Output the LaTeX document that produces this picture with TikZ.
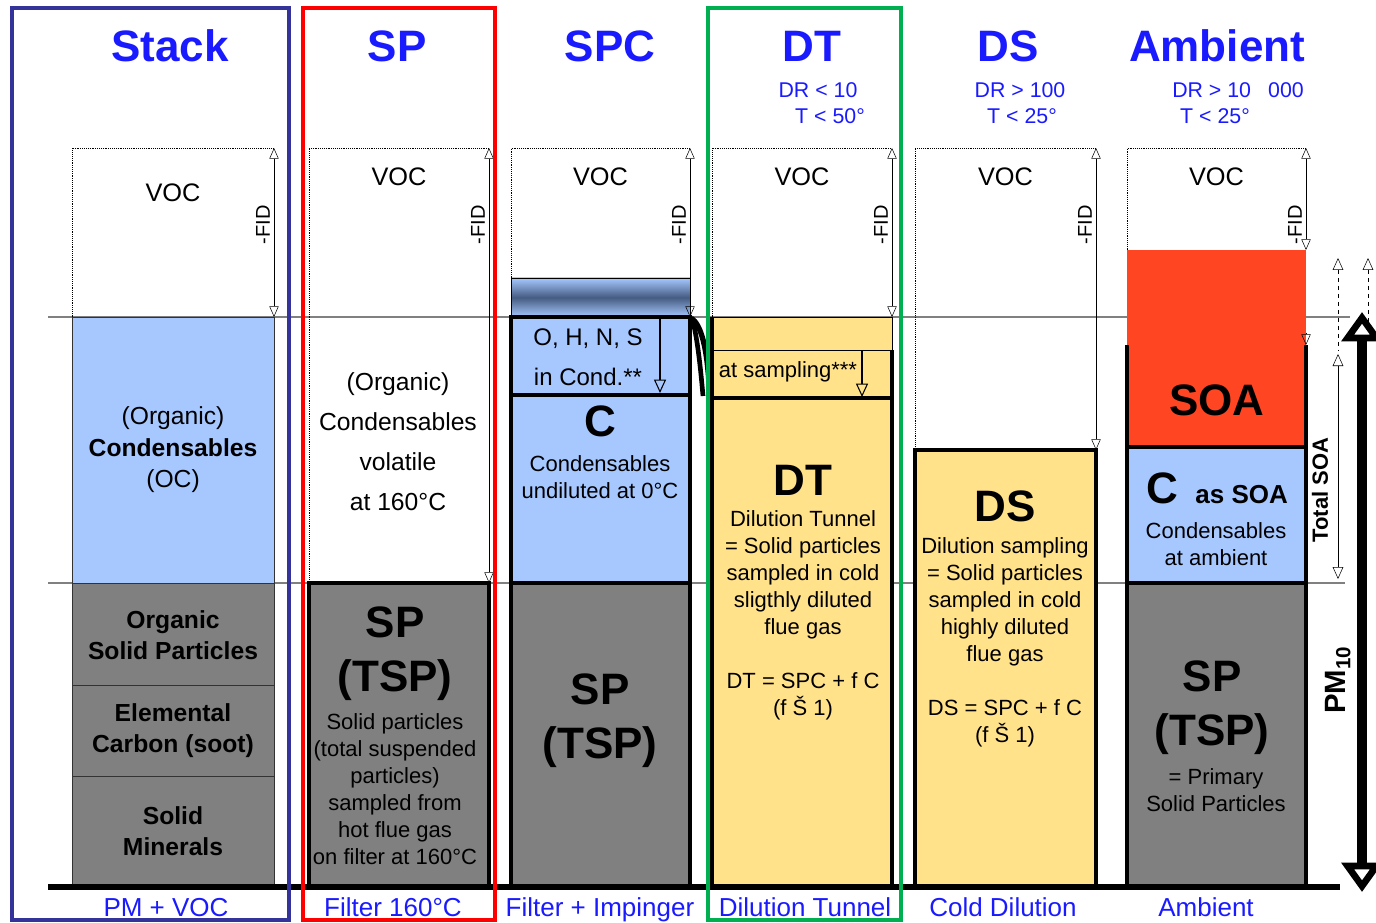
\documentclass[tikz,border=0pt]{standalone}
\usepackage{fontspec}
\setmainfont{Liberation Sans}
\usetikzlibrary{arrows.meta}
\definecolor{condblue}{RGB}{166,200,255}
\definecolor{bandblue}{RGB}{70,92,130}
\definecolor{solidgray}{RGB}{128,128,128}
\definecolor{dilyellow}{RGB}{255,226,138}
\definecolor{soared}{RGB}{255,69,34}
\definecolor{labelblue}{RGB}{26,26,255}
\definecolor{stackframe}{RGB}{51,51,153}
\definecolor{dtframe}{RGB}{0,176,80}
\newcommand{\fs}[2]{\fontsize{#1}{#2}\selectfont}
\tikzset{
  vocbox/.style={densely dotted, thin},
  fid/.style={{Triangle[open,length=8pt,width=7pt]}-{Triangle[open,length=8pt,width=7pt]}, thin},
  fidtext/.style={rotate=90, font=\fs{15}{18}},
  voctext/.style={font=\fs{19}{22}},
  heavy/.style={line width=3.5pt},
  title/.style={font=\fs{33}{36}\bfseries, text=labelblue},
  cond/.style={font=\fs{16}{18}, text=labelblue},
  base/.style={font=\fs{19.5}{22}, text=labelblue, anchor=base},
  body/.style={font=\fs{16.5}{20.25}, align=center},
  big/.style={font=\fs{33}{40.5}\bfseries, align=center},
  level/.style={draw=black!50, line width=2pt},
  drop/.style={thick, -{Triangle[open,length=10pt,width=9pt]}},
}
\begin{document}
\begin{tikzpicture}[x=0.75pt,y=-0.75pt]
    \useasboundingbox (0,0) rectangle (1376,923);
    % levels
    \draw[level] (48,317) -- (1350,317);
    \draw[level] (48,583) -- (1345,583);

    % Stack
    \fill[condblue] (72,317) rectangle (274,583);
    \fill[solidgray] (72,583) rectangle (274,887);
    \draw[black!80] (72,317) rectangle (274,583);
    \draw[black!80] (72,583) rectangle (274,887);
    \draw[black!80] (72,685) -- (274,685);
    \draw[black!80] (72,776) -- (274,776);

    % SP
    \fill[solidgray] (309,583) rectangle (489,887);
    \draw[heavy] (309,583) rectangle (489,887);

    % SPC
    \shade[top color=condblue, bottom color=condblue, middle color=bandblue] (511,278) rectangle (690,317);
    \draw (511,278) rectangle (690,317);
    \fill[condblue] (511,317) rectangle (690,583);
    \draw[heavy] (511,317) rectangle (690,583);
    \draw[heavy] (511,395) -- (690,395);
    \draw[drop] (660,317) -- (660,393);
    \fill[solidgray] (511,583) rectangle (690,887);
    \draw[heavy] (511,583) rectangle (690,887);
    \draw[line width=4pt] (691,318) .. controls (701,324) and (707,348) .. (709,384);
    \draw[line width=3.5pt] (692,318) .. controls (697,336) and (700,362) .. (703,396);

    % DT
    \fill[dilyellow] (712,317) rectangle (892,887);
    \draw (712,317) rectangle (892,350);
    \draw[heavy] (712,317) -- (712,887) -- (892,887) -- (892,350);
    \draw[heavy] (712,398) -- (892,398);
    \draw[drop] (862,350) -- (862,397);

    % DS
    \fill[dilyellow] (915,450) rectangle (1096,887);
    \draw[heavy] (915,450) rectangle (1096,887);

    % Ambient
    \fill[soared] (1127,250) rectangle (1306,447);
    \draw[heavy] (1127,345) -- (1127,447);
    \draw[heavy] (1306,345) -- (1306,447);
    \fill[condblue] (1127,447) rectangle (1306,583);
    \draw[heavy] (1127,447) rectangle (1306,583);
    \fill[solidgray] (1127,583) rectangle (1306,887);
    \draw[heavy] (1127,583) rectangle (1306,887);
    \draw[thin, -{Triangle[open,length=8pt,width=7pt]}] (1306,333) -- (1306,345);

    % VOC boxes and FID
    \foreach \xa/\xb/\yb/\ly [count=\i] in {72/274/317/193, 309/489/583/177, 511/690/278/177, 712/892/317/177, 915/1096/450/177, 1127/1306/250/177} {
        \draw[vocbox] (\xa,\yb) -- (\xa,148) -- (\xb,148);
        \node[voctext] (voc\i) at ({(\xa+\xb)/2},\ly) {VOC};
    }
    \foreach \xb/\ye [count=\i] in {274/317, 489/583, 690/317, 892/317, 1096/450, 1306/250} {
        \draw[fid] (\xb,148) -- (\xb,\ye);
        \node[fidtext] (fid\i) at (\xb-11,225) {-FID};
    }

    \draw[line width=4.5pt] (48,887) -- (1340,887);

    % right side
    \draw[thin, dashed, {Triangle[open,length=9pt,width=8pt]}-] (1338,258) -- (1338,350);
    \draw[thin, {Triangle[open,length=9pt,width=8pt]}-{Triangle[open,length=9pt,width=8pt]}] (1338,354) -- (1338,579);
    \draw[thin, dashed, {Triangle[open,length=9pt,width=8pt]}-] (1368,258) -- (1368,322);
    \draw[line width=8pt, {Triangle[open,length=22pt,width=30pt,line width=5pt]}-{Triangle[open,length=22pt,width=30pt,line width=5pt]}] (1362,312) -- (1362,892);
    \node[rotate=90, font=\fs{16.5}{18}\bfseries] (totsoa) at (1320,490) {Total SOA};
    \node[rotate=90, font=\fs{22}{24}\bfseries] (pmten) at (1338,680) {PM\textsubscript{10}};

    % titles
    \node[title] (tstack) at (170,46) {Stack};
    \node[title] (tsp) at (397,46) {SP};
    \node[title] (tspc) at (610,46) {SPC};
    \node[title] (tdt) at (812,46) {DT};
    \node[title] (tds) at (1008,46) {DS};
    \node[title] (tamb) at (1217,46) {Ambient};
    \node[cond] (dtdr) at (818,90) {DR < 10};
    \node[cond] (dtt) at (830,116) {T < 50°};
    \node[cond] (dsdr) at (1020,90) {DR > 100};
    \node[cond] (dst) at (1022,116) {T < 25°};
    \node[cond] (ambdr) at (1238,90) {DR > 10\hspace{0.8em}000};
    \node[cond] (ambt) at (1215,116) {T < 25°};

    % stack texts
    \node[align=center, font=\fs{18.5}{23.6}] (oc) at (173,450) {(Organic)\\\textbf{Condensables}\\(OC)};
    \node[align=center, font=\fs{18.5}{23.3}\bfseries] (osp) at (173,635) {Organic\\Solid Particles};
    \node[align=center, font=\fs{18.5}{23.3}\bfseries] (ec) at (173,731) {Elemental\\Carbon (soot)};
    \node[align=center, font=\fs{18.5}{23.3}\bfseries] (sm) at (173,831) {Solid\\Minerals};

    % SP texts
    \node[align=center, font=\fs{18.5}{30}] (vol) at (398,442) {(Organic)\\Condensables\\volatile\\at 160°C};
    \node[big] (sptsp) at (395,654) {SP\\(TSP)};
    \node[body] (spdesc) at (395,789) {Solid particles\\(total suspended\\particles)\\sampled from\\hot flue gas\\on filter at 160°C};

    % SPC texts
    \node[align=center, font=\fs{18}{30}] (ohns) at (588,357) {O, H, N, S\\in Cond.**};
    \node[font=\fs{33}{36}\bfseries] (cspc) at (600,421) {C};
    \node[body] (cund) at (600,477) {Condensables\\undiluted at 0°C};
    \node[big] (spctsp) at (600,721) {SP\\(TSP)};

    % DT texts
    \node[font=\fs{16.5}{20}] (atsmp) at (788,372) {at sampling***};
    \node[font=\fs{33}{36}\bfseries] (dtbig) at (803,480) {DT};
    \node[body] (dtdesc) at (803,615) {Dilution Tunnel\\= Solid particles\\sampled in cold\\sligthly diluted\\flue gas\\\mbox{}\\DT = SPC + f C\\(f Š 1)};

    % DS texts
    \node[font=\fs{33}{36}\bfseries] (dsbig) at (1005,506) {DS};
    \node[body] (dsdesc) at (1005,642) {Dilution sampling\\= Solid particles\\sampled in cold\\highly diluted\\flue gas\\\mbox{}\\DS = SPC + f C\\(f Š 1)};

    % Ambient texts
    \node[font=\fs{33}{36}\bfseries] (soa) at (1217,400) {SOA};
    \node[font=\bfseries] (camb) at (1217,488) {\fs{33}{36}C\hspace{0.4em}\fs{19.5}{22}as SOA};
    \node[body] (cambd) at (1216,544) {Condensables\\at ambient};
    \node[big] (ambtsp) at (1212,708) {SP\\(TSP)};
    \node[body] (prim) at (1216,790) {= Primary\\Solid Particles};

    % bottom labels
    \node[base] (bstack) at (166,916) {PM + VOC};
    \node[base] (bsp) at (393,916) {Filter 160°C};
    \node[base] (bspc) at (600,916) {Filter + Impinger};
    \node[base] (bdt) at (805,916) {Dilution Tunnel};
    \node[base] (bds) at (1003,916) {Cold Dilution};
    \node[base] (bamb) at (1206,916) {Ambient};

    % frames
    \draw[stackframe, line width=3pt] (12,8) rectangle (289,920);
    \draw[red, line width=3pt] (303,8) rectangle (495,920);
    \draw[dtframe, line width=3pt] (708,8) rectangle (901,920);
\end{tikzpicture}
\end{document}
